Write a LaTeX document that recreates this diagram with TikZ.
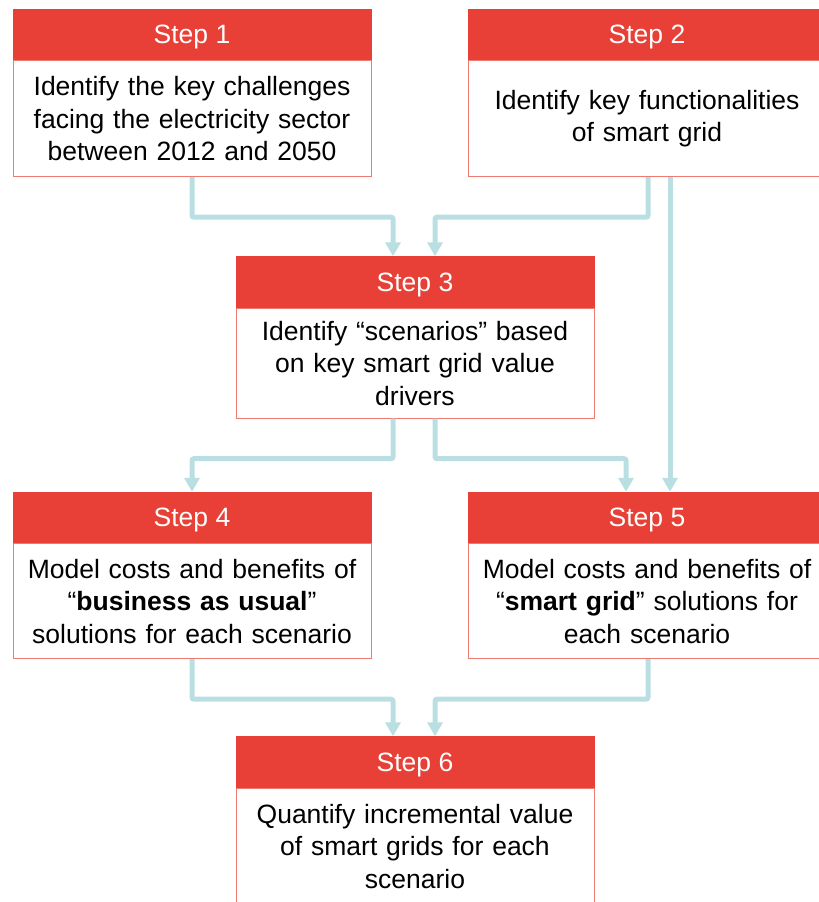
\documentclass[tikz,border=0pt]{standalone}
\usepackage{fontspec}
\setmainfont{Liberation Sans}
\usetikzlibrary{arrows.meta}
\definecolor{stepred}{HTML}{E84036}
\definecolor{edgered}{HTML}{EE7A72}
\definecolor{flowblue}{HTML}{B9DFE2}
\tikzset{
  head/.style={draw=stepred, fill=stepred, text=white, minimum width=358pt, minimum height=51pt, inner sep=0pt, text height=19pt, text depth=0pt, font=\fontsize{26.5}{31}\selectfont},
  body/.style={draw=edgered, line width=1pt, fill=white, anchor=north, text width=358pt, align=center, minimum height=#1, inner sep=0pt, font=\fontsize{26.5}{32.5}\selectfont},
  flow/.style={draw=flowblue, line width=5pt, rounded corners=2pt, -{Triangle[width=15pt,length=14pt]}}
}
\begin{document}
\begin{tikzpicture}[x=1pt,y=1pt]
\useasboundingbox (0,0) rectangle (819,902);

\node[head] (h1) at (192,867.5) {Step 1};
\node[body=116pt] (b1) at (h1.south) {Identify the key challenges\\facing the electricity sector\\between 2012 and 2050};

\node[head] (h2) at (647,867.5) {Step 2};
\node[body=116pt] (b2) at (h2.south) {Identify key functionalities\\of smart grid};

\node[head] (h3) at (415,620) {Step 3};
\node[body=110pt] (b3) at (h3.south) {Identify ``scenarios'' based\\on key smart grid value\\drivers};

\node[head] (h4) at (192,384.5) {Step 4};
\node[body=115pt] (b4) at (h4.south) {Model costs and benefits of\\``\textbf{business as usual}''\\solutions for each scenario};

\node[head] (h5) at (647,384.5) {Step 5};
\node[body=115pt] (b5) at (h5.south) {Model costs and benefits of\\``\textbf{smart grid}'' solutions for\\each scenario};

\node[head] (h6) at (415,140) {Step 6};
\node[body=116pt] (b6) at (h6.south) {Quantify incremental value\\of smart grids for each\\scenario};

% flows
\draw[flow] (b1.south) -- ++(0,-40) -| ([xshift=-22pt]h3.north);
\draw[flow] ([xshift=1pt]b2.south) -- ++(0,-40) -| ([xshift=20pt]h3.north);
\draw[flow] ([xshift=23pt]b2.south) -- ([xshift=23pt]h5.north);
\draw[flow] ([xshift=-22pt]b3.south) -- ++(0,-40) -| (h4.north);
\draw[flow] ([xshift=20pt]b3.south) -- ++(0,-40) -| ([xshift=-21pt]h5.north);
\draw[flow] (b4.south) -- ++(0,-40) -| ([xshift=-22pt]h6.north);
\draw[flow] ([xshift=1pt]b5.south) -- ++(0,-40) -| ([xshift=20pt]h6.north);
\end{tikzpicture}
\end{document}
